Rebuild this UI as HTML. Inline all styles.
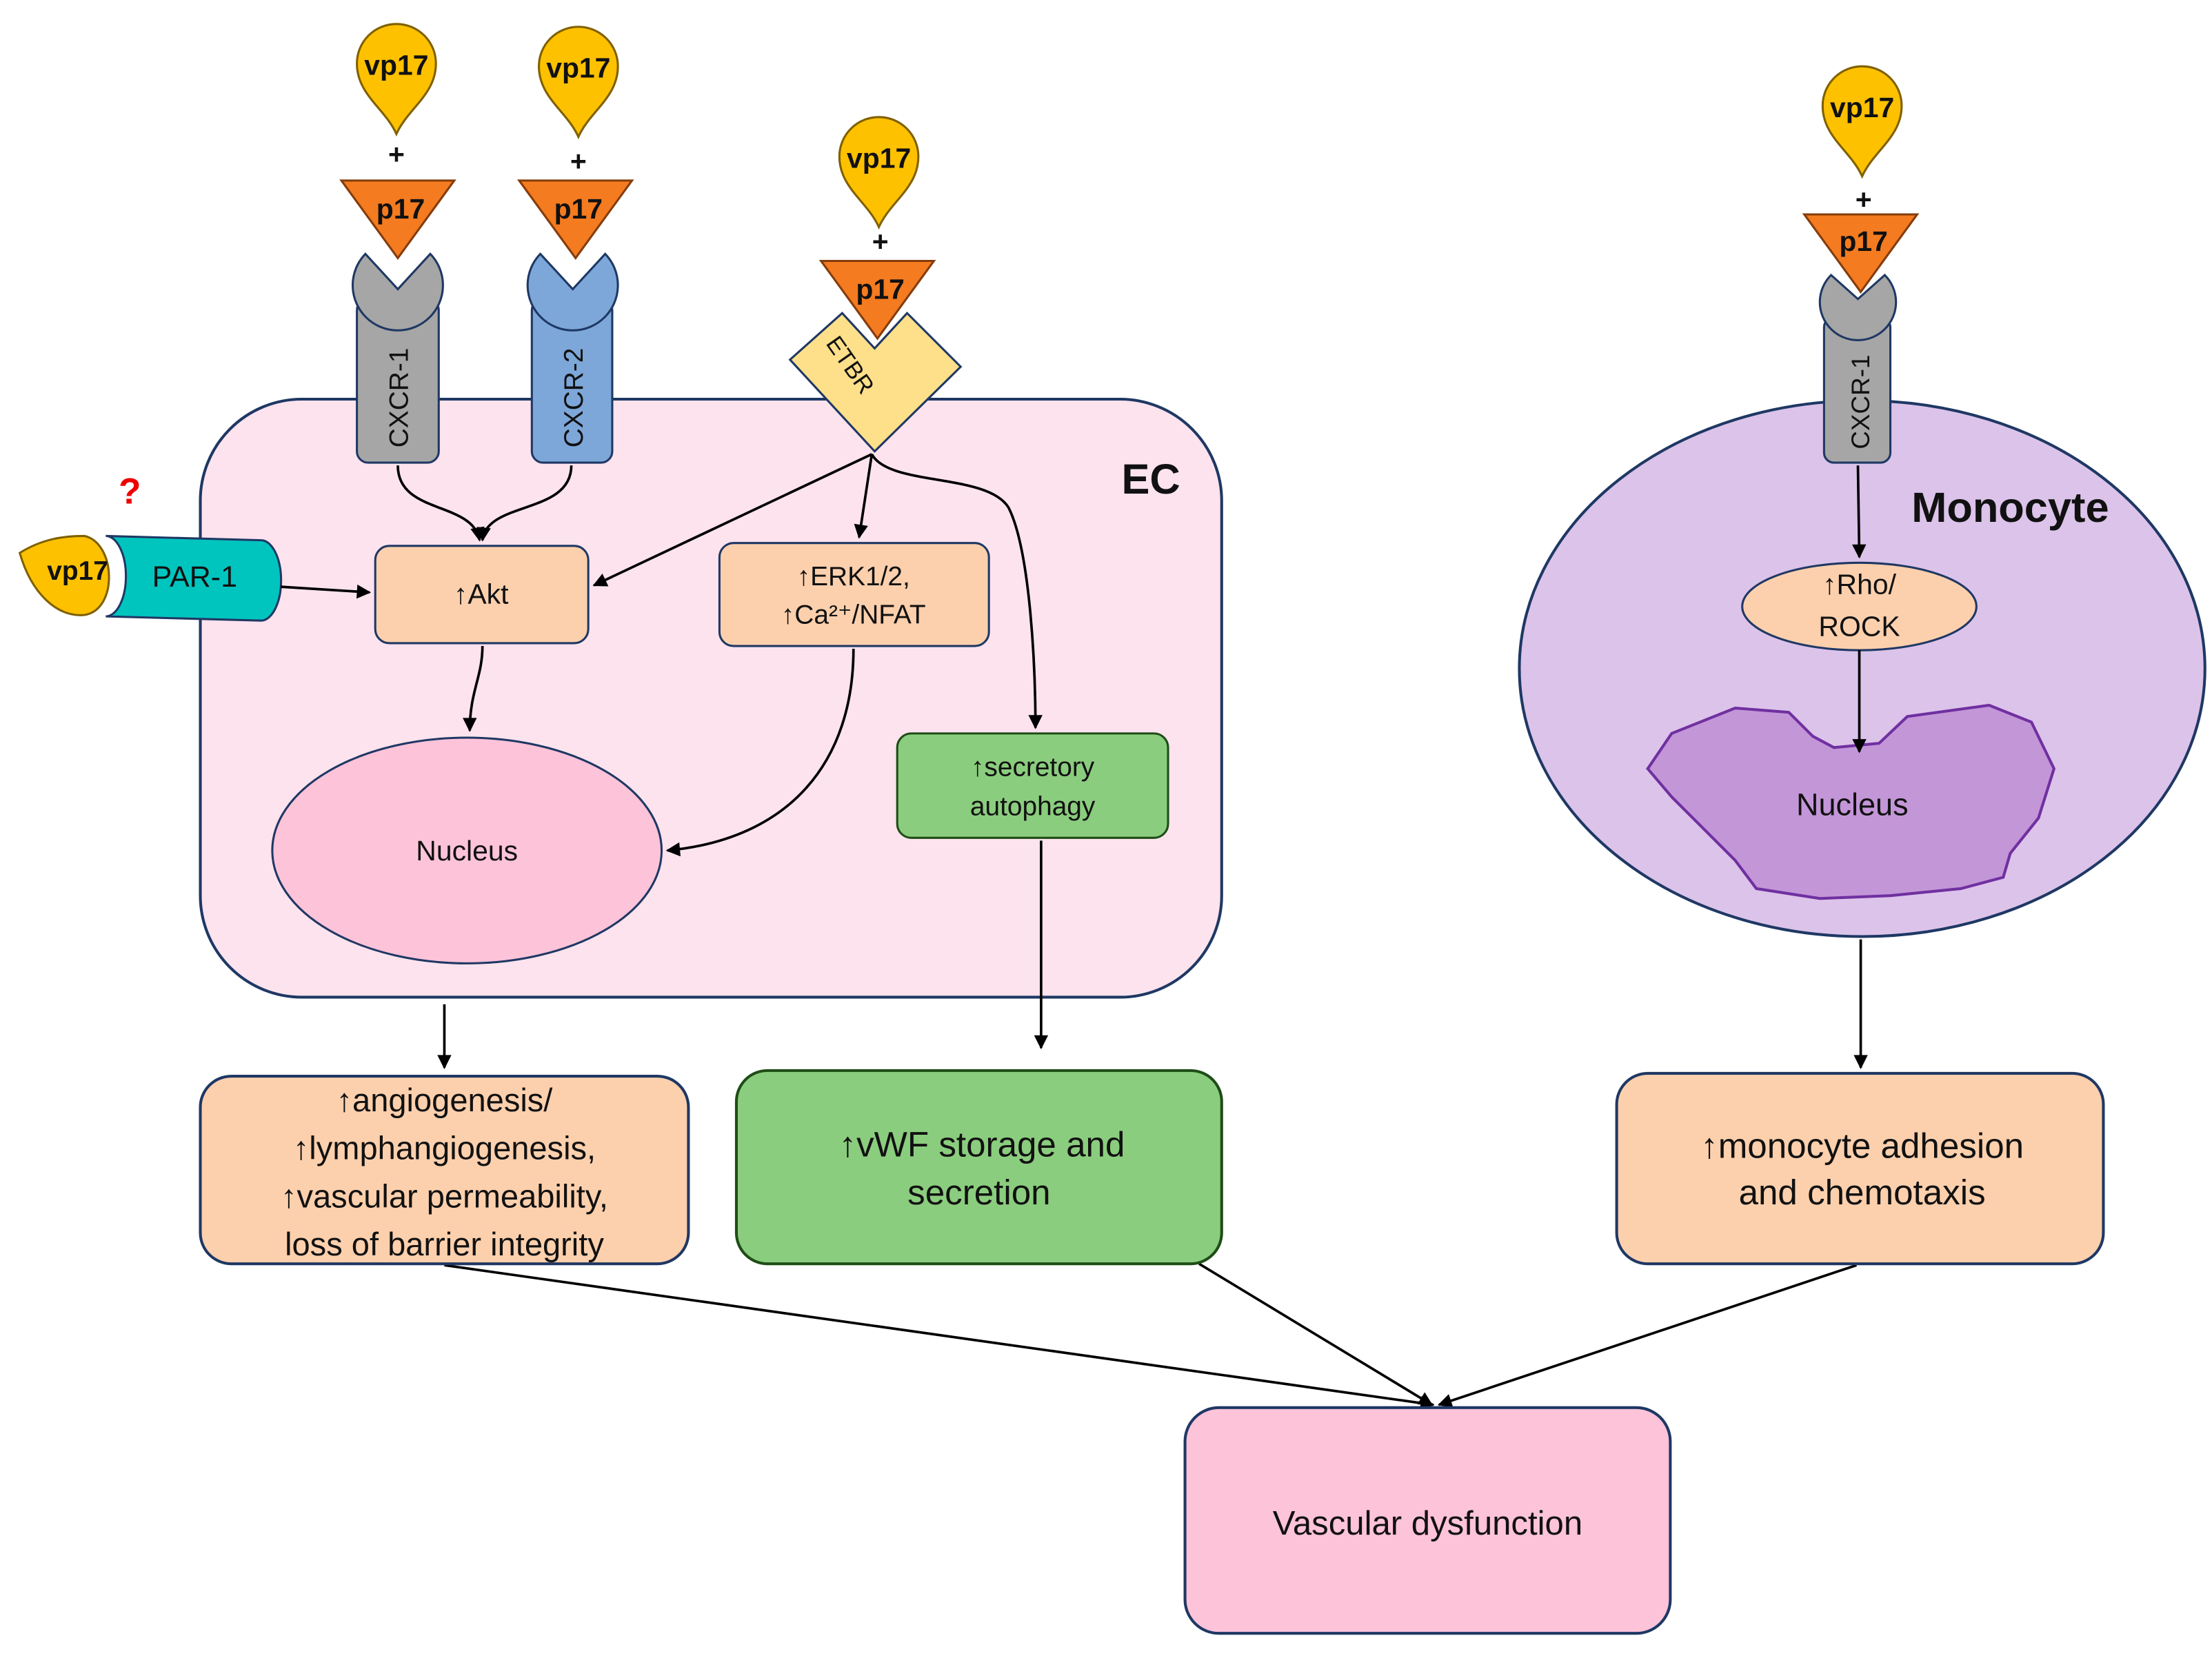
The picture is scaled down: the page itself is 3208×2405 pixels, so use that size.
<!DOCTYPE html>
<html><head><meta charset="utf-8"><style>
html,body{margin:0;padding:0;background:#fff}
svg{display:block}
text{font-family:"Liberation Sans Narrow","Liberation Sans",sans-serif;fill:#111}
.b{font-weight:bold}
</style></head><body>
<svg width="3208" height="2405" viewBox="0 0 1568 1175.5" xmlns="http://www.w3.org/2000/svg">
<defs>
<marker id="ar" viewBox="0 0 10 10" refX="9" refY="5" markerWidth="11" markerHeight="10" orient="auto-start-reverse" markerUnits="userSpaceOnUse"><path d="M0,0 L10,5 L0,10 z" fill="#000"/></marker>
<g id="drop"><path d="M0,50 C-8,32 -28,22 -28,0 A28,28 0 1 1 28,0 C28,22 8,32 0,50 Z" fill="#fec100" stroke="#7f6000" stroke-width="1.5"/></g>
<g id="tri"><path d="M-40,0 L40,0 L0,55 Z" fill="#f47b20" stroke="#843c0c" stroke-width="1.5"/></g>
</defs>

<rect x="142" y="283" width="724" height="424" rx="72" fill="#fde3ee" stroke="#1f3864" stroke-width="2"/>
<text x="795" y="350" class="b" font-size="30">EC</text>

<ellipse cx="1320" cy="474" rx="243" ry="190" fill="#dcc3ea" stroke="#1f3864" stroke-width="2"/>
<text x="1425" y="370" class="b" font-size="30" text-anchor="middle">Monocyte</text>

<use href="#drop" x="281" y="45"/><text x="281" y="53" class="b" font-size="20" text-anchor="middle">vp17</text>
<use href="#drop" x="410" y="47"/><text x="410" y="55" class="b" font-size="20" text-anchor="middle">vp17</text>
<use href="#drop" x="623" y="111"/><text x="623" y="119" class="b" font-size="20" text-anchor="middle">vp17</text>
<use href="#drop" x="1320" y="75"/><text x="1320" y="83" class="b" font-size="20" text-anchor="middle">vp17</text>
<text x="281" y="116" class="b" font-size="20" text-anchor="middle">+</text>
<text x="410" y="121" class="b" font-size="20" text-anchor="middle">+</text>
<text x="624" y="178" class="b" font-size="20" text-anchor="middle">+</text>
<text x="1321" y="148" class="b" font-size="20" text-anchor="middle">+</text>

<rect x="253" y="212" width="58" height="116" rx="8" fill="#a6a6a6" stroke="#1f3864" stroke-width="1.5"/>
<path d="M259,180 L282,205 L305,180 A32,32 0 1 1 259,180 Z" fill="#a6a6a6" stroke="#1f3864" stroke-width="1.5"/>
<text transform="translate(289,282) rotate(-90)" font-size="19" text-anchor="middle">CXCR-1</text>
<rect x="377" y="212" width="57" height="116" rx="8" fill="#7da7d9" stroke="#1f3864" stroke-width="1.5"/>
<path d="M383,180 L406,205 L429,180 A32,32 0 1 1 383,180 Z" fill="#7da7d9" stroke="#1f3864" stroke-width="1.5"/>
<text transform="translate(413,282) rotate(-90)" font-size="19" text-anchor="middle">CXCR-2</text>
<use href="#tri" x="282" y="128"/><text x="284" y="155" class="b" font-size="20" text-anchor="middle">p17</text>
<use href="#tri" x="408" y="128"/><text x="410" y="155" class="b" font-size="20" text-anchor="middle">p17</text>

<path d="M560,255 L597,222 L620,247 L643,222 L681,260 L620,320 Z" fill="#ffe08a" stroke="#1f3864" stroke-width="1.5"/>
<text transform="translate(598,262) rotate(55)" font-size="17" text-anchor="middle">ETBR</text>
<use href="#tri" x="622" y="185"/><text x="624" y="212" class="b" font-size="20" text-anchor="middle">p17</text>

<rect x="1293" y="225" width="47" height="103" rx="7" fill="#a6a6a6" stroke="#1f3864" stroke-width="1.5"/>
<path d="M1298,195 L1317,212 L1336,195 A27,27 0 1 1 1298,195 Z" fill="#a6a6a6" stroke="#1f3864" stroke-width="1.5"/>
<text transform="translate(1325,285) rotate(-90)" font-size="18" text-anchor="middle">CXCR-1</text>
<use href="#tri" x="1319" y="152"/><text x="1321" y="178" class="b" font-size="20" text-anchor="middle">p17</text>

<text x="92" y="357" class="b" font-size="26" text-anchor="middle" style="fill:#e00">?</text>
<path d="M75,380 L185,383 A14,28 0 0 1 185,440 L75,437 A14,28 0 0 0 75,380 Z" fill="#00c5bf" stroke="#1f3864" stroke-width="1.5"/>
<text x="138" y="416" font-size="21" text-anchor="middle">PAR-1</text>
<path d="M14,392 C30,382 45,380 60,380 C82,385 84,432 60,436 C40,438 22,420 14,392 Z" fill="#fec100" stroke="#7f6000" stroke-width="1.5"/>
<text x="55" y="411" class="b" font-size="19" text-anchor="middle">vp17</text>

<rect x="266" y="387" width="151" height="69" rx="10" fill="#fdd0ad" stroke="#1f3864" stroke-width="1.5"/>
<text x="341" y="428" font-size="20" text-anchor="middle">↑Akt</text>
<rect x="510" y="385" width="191" height="73" rx="10" fill="#fdd0ad" stroke="#1f3864" stroke-width="1.5"/>
<text x="605" y="415" font-size="19" text-anchor="middle">↑ERK1/2,</text>
<text x="605" y="442" font-size="19" text-anchor="middle">↑Ca²⁺/NFAT</text>
<rect x="636" y="520" width="192" height="74" rx="10" fill="#8bcd7e" stroke="#1e4d16" stroke-width="1.5"/>
<text x="732" y="550" font-size="19" text-anchor="middle">↑secretory</text>
<text x="732" y="578" font-size="19" text-anchor="middle">autophagy</text>
<ellipse cx="331" cy="603" rx="138" ry="80" fill="#fdc3d9" stroke="#1f3864" stroke-width="1.5"/>
<text x="331" y="610" font-size="20" text-anchor="middle">Nucleus</text>

<ellipse cx="1318" cy="430" rx="83" ry="31" fill="#fdd0ad" stroke="#1f3864" stroke-width="1.5"/>
<text x="1318" y="421" font-size="20" text-anchor="middle">↑Rho/</text>
<text x="1318" y="451" font-size="20" text-anchor="middle">ROCK</text>
<path d="M1185,520 L1230,502 L1268,505 L1285,522 L1300,530 L1332,527 L1352,508 L1410,500 L1440,512 L1456,545 L1445,580 L1425,605 L1420,622 L1390,630 L1340,635 L1290,637 L1245,630 L1230,610 L1210,590 L1185,565 L1168,545 Z" fill="#c396d8" stroke="#7030a0" stroke-width="2"/>
<text x="1313" y="578" font-size="22" text-anchor="middle">Nucleus</text>

<g fill="none" stroke="#000" stroke-width="1.8">
<path d="M282,330 C282,365 335,355 340,383" marker-end="url(#ar)"/>
<path d="M405,330 C405,365 345,355 342,383" marker-end="url(#ar)"/>
<path d="M199,416 L262,420" marker-end="url(#ar)"/>
<path d="M618,322 L421,415" marker-end="url(#ar)"/>
<path d="M618,322 L609,381" marker-end="url(#ar)"/>
<path d="M618,322 C630,345 700,335 715,360 C730,390 734,470 734,516" marker-end="url(#ar)"/>
<path d="M342,458 C342,480 333,490 333,518" marker-end="url(#ar)"/>
<path d="M605,460 C605,540 560,595 473,603" marker-end="url(#ar)"/>
<path d="M1317,330 L1318,395" marker-end="url(#ar)"/>
<path d="M1318,461 L1318,533" marker-end="url(#ar)"/>
<path d="M315,712 L315,757" marker-end="url(#ar)"/>
<path d="M738,596 L738,743" marker-end="url(#ar)"/>
<path d="M1319,666 L1319,757" marker-end="url(#ar)"/>
<path d="M315,897 L1016,996" marker-end="url(#ar)"/>
<path d="M850,896 L1015,996" marker-end="url(#ar)"/>
<path d="M1316,897 L1020,996" marker-end="url(#ar)"/>
</g>

<rect x="142" y="763" width="346" height="133" rx="22" fill="#fdd0ad" stroke="#1f3864" stroke-width="2"/>
<text x="315" y="788" font-size="23" text-anchor="middle">↑angiogenesis/</text>
<text x="315" y="822" font-size="23" text-anchor="middle">↑lymphangiogenesis,</text>
<text x="315" y="856" font-size="23" text-anchor="middle">↑vascular permeability,</text>
<text x="315" y="890" font-size="23" text-anchor="middle">loss of barrier integrity</text>
<rect x="522" y="759" width="344" height="137" rx="22" fill="#8bcd7e" stroke="#1e4d16" stroke-width="2"/>
<text x="696" y="820" font-size="25" text-anchor="middle">↑vWF storage and</text>
<text x="694" y="854" font-size="25" text-anchor="middle">secretion</text>
<rect x="1146" y="761" width="345" height="135" rx="22" fill="#fdd0ad" stroke="#1f3864" stroke-width="2"/>
<text x="1320" y="821" font-size="25" text-anchor="middle">↑monocyte adhesion</text>
<text x="1320" y="854" font-size="25" text-anchor="middle">and chemotaxis</text>
<rect x="840" y="998" width="344" height="160" rx="24" fill="#fdc3d9" stroke="#1f3864" stroke-width="2"/>
<text x="1012" y="1088" font-size="24" text-anchor="middle">Vascular dysfunction</text>
</svg>
</body></html>
